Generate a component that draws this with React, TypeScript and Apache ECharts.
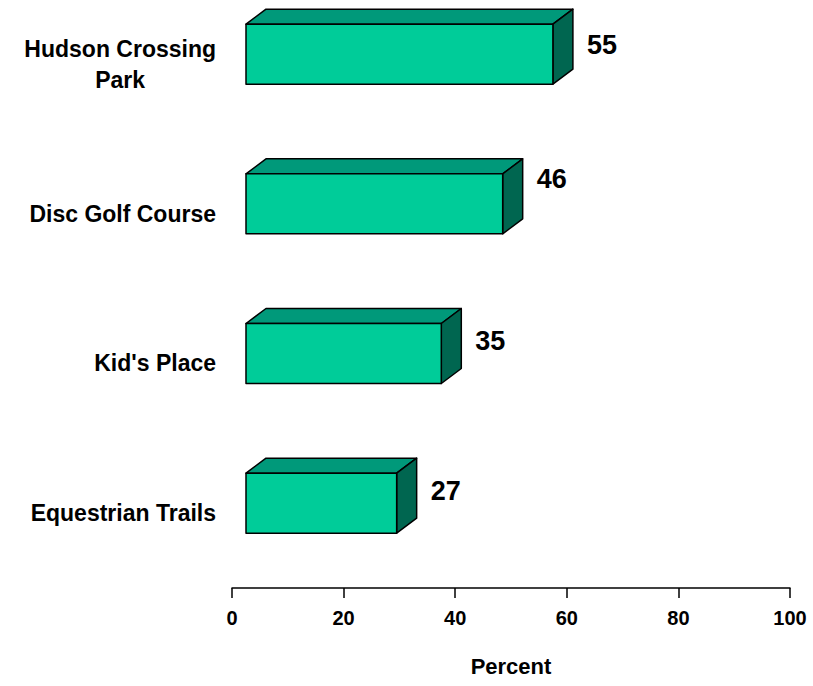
import React, { useEffect, useRef } from "react";
import * as echarts from "echarts";

const categories = ["Hudson Crossing\nPark", "Disc Golf Course", "Kid's Place", "Equestrian Trails"];
const percentValues = [55, 46, 35, 27];
const xTicks = { min: 0, max: 100, interval: 20 };
const axisTitle = "Percent";

// layout nudges for the value labels (pixels), not data
const labelDy = [-9, -25, -12, -12];

const FONT = "'Liberation Sans', Arial, Helvetica, sans-serif";

export default function App() {
  const ref = useRef<HTMLDivElement>(null);
  useEffect(() => {
    if (!ref.current) return;
    const chart = echarts.init(ref.current, null, { renderer: "svg" });
    const DX = 20, DY = 15, H = 60, OFFX = 14, OFFY = -10;
    chart.setOption({
      animation: false,
      backgroundColor: "#ffffff",
      grid: { left: 232, right: 23, top: -10.67, bottom: 98, containLabel: false, outerBoundsMode: "none" },
      xAxis: {
        type: "value",
        min: xTicks.min,
        max: xTicks.max,
        interval: xTicks.interval,
        name: axisTitle,
        nameLocation: "middle",
        nameGap: 67,
        nameTextStyle: { color: "#000", fontWeight: "bold", fontSize: 22, fontFamily: FONT },
        axisLine: { show: true, lineStyle: { color: "#000", width: 1.5 } },
        axisTick: { show: true, inside: false, length: 10, lineStyle: { color: "#000", width: 1.5 } },
        axisLabel: { color: "#000", fontWeight: "bold", fontSize: 20, fontFamily: FONT, margin: 20 },
        splitLine: { show: false },
      },
      yAxis: {
        type: "category",
        data: categories,
        inverse: true,
        axisLine: { show: false },
        axisTick: { show: false },
        axisLabel: {
          margin: 16,
          align: "right",
          formatter: (v: string) => v.split("\n").map((s) => `{a|${s}}`).join("\n"),
          rich: {
            a: { align: "center", color: "#000", fontWeight: "bold", fontSize: 23, fontFamily: FONT, lineHeight: 31 },
          },
        },
      },
      series: [
        {
          type: "custom",
          clip: false,
          data: percentValues.map((v, i) => [v, i]),
          encode: { x: 0, y: 1 },
          renderItem: (params: any, api: any) => {
            const v = api.value(0);
            const c = api.value(1);
            const p0 = api.coord([0, c]);
            const p1 = api.coord([v, c]);
            const x0 = p0[0] + OFFX;
            const x1 = p1[0] + OFFX;
            const cy = p0[1] + OFFY;
            const top = cy - H / 2;
            const bottom = cy + H / 2;
            const stroke = { stroke: "#000", lineWidth: 1.5, lineJoin: "round" };
            return {
              type: "group",
              children: [
                {
                  type: "polygon",
                  shape: { points: [[x0, top], [x0 + DX, top - DY], [x1 + DX, top - DY], [x1, top]] },
                  style: { fill: "#00997a", ...stroke },
                },
                {
                  type: "polygon",
                  shape: { points: [[x1, top], [x1 + DX, top - DY], [x1 + DX, bottom - DY], [x1, bottom]] },
                  style: { fill: "#006650", ...stroke },
                },
                {
                  type: "rect",
                  shape: { x: x0, y: top, width: x1 - x0, height: H },
                  style: { fill: "#00cc99", ...stroke },
                },
                {
                  type: "text",
                  x: x1 + 34,
                  y: cy + labelDy[params.dataIndex],
                  style: {
                    text: String(v),
                    fill: "#000",
                    font: `bold 27px ${FONT}`,
                    align: "left",
                    verticalAlign: "middle",
                  },
                },
              ],
            };
          },
        },
      ],
    });
    return () => chart.dispose();
  }, []);
  return <div ref={ref} style={{ position: "fixed", left: 0, top: 0, width: 813, height: 686 }} />;
}
